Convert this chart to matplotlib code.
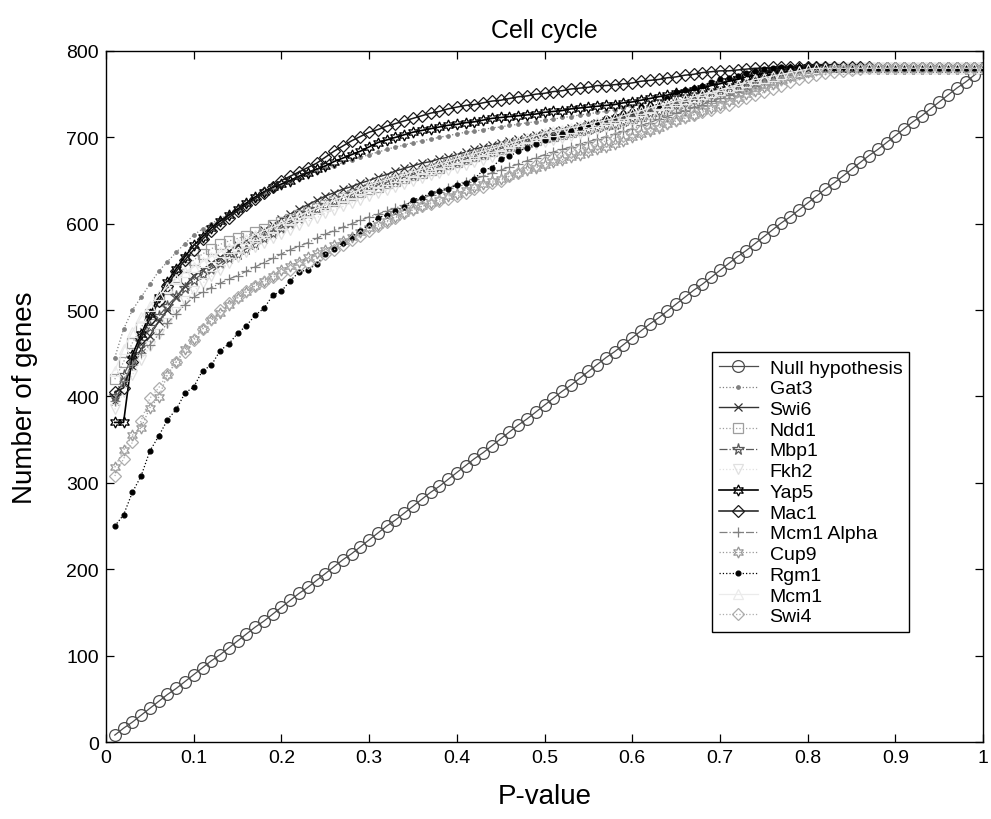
#!/usr/bin/env python3
"""Cell cycle: number of genes vs P-value threshold for each factor."""

import matplotlib
matplotlib.use('Agg')
import matplotlib.pyplot as plt
from matplotlib import font_manager

# P-value thresholds (x grid)
P_VALUES = [round(0.01 * k, 2) for k in range(1, 101)]

NULL_HYPOTHESIS = [
    8, 16, 23, 31, 39, 47, 55, 62, 70, 78,
    86, 94, 101, 109, 117, 125, 133, 140, 148, 156,
    164, 172, 179, 187, 195, 203, 211, 218, 226, 234,
    242, 250, 257, 265, 273, 281, 289, 296, 304, 312,
    320, 328, 335, 343, 351, 359, 367, 374, 382, 390,
    398, 406, 413, 421, 429, 437, 445, 452, 460, 468,
    476, 484, 491, 499, 507, 515, 523, 530, 538, 546,
    554, 562, 569, 577, 585, 593, 601, 608, 616, 624,
    632, 640, 647, 655, 663, 671, 679, 686, 694, 702,
    710, 718, 725, 733, 741, 749, 757, 764, 772, 780]

GAT3 = [
    445, 478, 500, 515, 530, 545, 556, 567, 577, 587,
    594, 600, 606, 611, 616, 622, 628, 634, 639, 644,
    648, 652, 656, 660, 664, 667, 671, 674, 677, 680,
    683, 686, 689, 691, 694, 696, 698, 700, 702, 704,
    706, 707, 709, 711, 712, 714, 715, 717, 718, 720,
    721, 723, 724, 726, 727, 729, 730, 732, 734, 736,
    738, 740, 742, 744, 746, 748, 750, 752, 754, 756,
    758, 760, 762, 765, 767, 770, 772, 775, 777, 779] + [780] * 20

SWI6 = [
    395, 415, 435, 455, 470, 487, 500, 515, 528, 540,
    547, 554, 561, 568, 575, 581, 587, 593, 599, 605,
    611, 617, 622, 627, 632, 636, 640, 643, 647, 650,
    654, 657, 661, 664, 667, 670, 672, 675, 677, 680,
    683, 686, 689, 691, 694, 696, 698, 700, 703, 705,
    707, 709, 711, 713, 715, 717, 719, 721, 723, 725,
    728, 731, 734, 737, 740, 743, 746, 749, 752, 755,
    758, 761, 764, 767, 770, 773, 775, 777, 779, 780] + [780] * 20

NDD1 = [
    420, 440, 462, 480, 495, 510, 525, 538, 550, 558,
    565, 571, 576, 580, 583, 586, 590, 594, 598, 602,
    606, 610, 614, 618, 622, 626, 630, 633, 637, 640,
    643, 647, 650, 653, 656, 659, 662, 665, 669, 672,
    675, 678, 681, 684, 687, 690, 692, 695, 697, 700,
    702, 704, 706, 709, 711, 713, 715, 717, 720, 722,
    725, 727, 730, 732, 735, 737, 740, 742, 745, 748,
    751, 754, 757, 760, 763, 766, 769, 772, 775, 777] + [779] + [780] * 19

MBP1 = [
    400, 425, 445, 463, 480, 493, 505, 516, 526, 535,
    542, 548, 554, 560, 565, 571, 577, 583, 589, 595,
    601, 607, 612, 617, 622, 626, 630, 634, 638, 642,
    645, 648, 651, 654, 657, 660, 663, 666, 669, 672,
    675, 678, 681, 684, 687, 690, 692, 695, 698, 700,
    702, 704, 706, 708, 710, 712, 714, 716, 719, 722,
    725, 728, 731, 734, 737, 740, 743, 746, 749, 752,
    755, 758, 761, 764, 767, 770, 773, 776, 778, 780] + [780] * 20

FKH2 = [
    385, 405, 425, 442, 458, 472, 485, 498, 510, 522,
    531, 539, 547, 554, 561, 567, 573, 578, 583, 588,
    593, 598, 603, 607, 612, 616, 620, 624, 628, 632,
    636, 639, 643, 646, 650, 653, 656, 659, 662, 665,
    668, 671, 674, 677, 680, 683, 686, 689, 692, 695,
    697, 699, 702, 704, 706, 708, 711, 713, 715, 718,
    721, 724, 727, 730, 733, 736, 739, 742, 745, 748,
    751, 754, 757, 760, 763, 766, 769, 772, 775, 777] + [779] + [780] * 19

YAP5 = [
    370, 370, 448, 472, 495, 515, 533, 548, 562, 575,
    585, 595, 603, 610, 617, 624, 631, 637, 642, 646,
    650, 655, 659, 663, 667, 672, 676, 680, 684, 689,
    694, 697, 700, 703, 706, 708, 710, 712, 714, 715,
    717, 718, 720, 722, 723, 724, 725, 726, 727, 729,
    730, 731, 733, 734, 735, 736, 737, 738, 740, 741,
    743, 745, 747, 749, 751, 753, 755, 757, 760, 762,
    765, 767, 770, 772, 774, 776, 778, 779, 780, 781] + [781] * 3 + [780] * 17

MAC1 = [
    405, 410, 440, 468, 490, 510, 528, 545, 558, 570,
    582, 592, 600, 607, 615, 622, 629, 636, 643, 650,
    655, 660, 665, 670, 677, 684, 690, 696, 701, 706,
    709, 713, 716, 719, 722, 725, 728, 730, 733, 735,
    737, 738, 740, 742, 743, 745, 747, 748, 750, 751,
    753, 754, 756, 757, 758, 760, 760, 761, 762, 763,
    765, 766, 767, 769, 770, 772, 773, 775, 776, 777,
    777, 778, 779, 780, 780, 781, 782, 782, 782, 782] + [782] + [781] * 6 + [780] * 13

MCM1_ALPHA = [
    395, 418, 437, 450, 460, 472, 485, 496, 506, 515,
    521, 526, 531, 536, 540, 545, 550, 555, 560, 565,
    570, 574, 578, 583, 588, 592, 596, 600, 604, 608,
    611, 615, 618, 622, 625, 629, 633, 637, 641, 645,
    648, 652, 655, 659, 662, 666, 669, 673, 676, 680,
    683, 686, 689, 692, 695, 698, 701, 704, 707, 710,
    714, 717, 721, 724, 728, 731, 735, 738, 742, 745,
    749, 752, 756, 759, 763, 766, 769, 772, 775, 778] + [779] + [780] * 19

CUP9 = [
    318, 338, 355, 364, 387, 399, 425, 440, 455, 467,
    478, 488, 497, 506, 514, 521, 528, 534, 540, 546,
    551, 556, 561, 566, 570, 575, 580, 585, 590, 595,
    599, 603, 608, 612, 616, 620, 624, 628, 632, 635,
    639, 642, 646, 649, 652, 655, 659, 662, 665, 668,
    671, 674, 677, 680, 683, 686, 689, 692, 696, 700,
    704, 707, 711, 715, 719, 722, 726, 730, 734, 738,
    742, 746, 750, 754, 758, 762, 766, 770, 773, 776] + [778, 779] + [780] * 18

RGM1 = [
    250, 263, 289, 308, 337, 354, 373, 385, 404, 411,
    430, 436, 453, 461, 473, 482, 494, 502, 517, 522,
    534, 544, 547, 553, 565, 571, 578, 585, 592, 599,
    607, 610, 615, 619, 628, 630, 636, 638, 640, 645,
    647, 652, 662, 665, 675, 678, 684, 688, 692, 697,
    700, 704, 708, 712, 715, 718, 722, 725, 728, 730,
    735, 737, 738, 745, 752, 755, 757, 760, 764, 767,
    769, 771, 775, 777, 779, 780, 781, 781, 781, 781] + [781] * 2 + [780] * 18

MCM1 = [
    430, 455, 475, 492, 505, 517, 527, 536, 544, 550,
    556, 562, 567, 572, 577, 582, 587, 592, 596, 600,
    605, 609, 614, 618, 622, 627, 631, 635, 640, 645,
    648, 651, 654, 657, 660, 663, 666, 669, 672, 675,
    678, 681, 684, 687, 690, 693, 696, 699, 702, 705,
    707, 709, 711, 713, 715, 718, 720, 722, 725, 728,
    731, 734, 737, 739, 742, 744, 747, 750, 752, 755,
    758, 761, 764, 767, 769, 771, 773, 775, 777, 779] + [780] * 20

SWI4 = [
    308, 328, 347, 372, 398, 410, 426, 440, 452, 465,
    478, 490, 500, 508, 515, 522, 528, 533, 538, 542,
    547, 551, 555, 560, 565, 570, 575, 581, 586, 592,
    597, 602, 607, 612, 617, 620, 623, 626, 629, 632,
    636, 640, 643, 647, 650, 655, 659, 664, 668, 672,
    676, 679, 683, 686, 689, 692, 696, 699, 702, 705,
    708, 711, 714, 717, 720, 723, 726, 729, 732, 735,
    738, 742, 745, 749, 752, 756, 760, 764, 767, 770] + [772, 774, 776, 777, 778, 779] + [780] * 14

SERIES = [
    ('Null hypothesis', NULL_HYPOTHESIS),
    ('Gat3', GAT3),
    ('Swi6', SWI6),
    ('Ndd1', NDD1),
    ('Mbp1', MBP1),
    ('Fkh2', FKH2),
    ('Yap5', YAP5),
    ('Mac1', MAC1),
    ('Mcm1 Alpha', MCM1_ALPHA),
    ('Cup9', CUP9),
    ('Rgm1', RGM1),
    ('Mcm1', MCM1),
    ('Swi4', SWI4),
]

HEXAGRAM = (6, 1, 0)

# color, linestyle, linewidth, marker, markersize, filled marker
STYLES = {
    'Null hypothesis': ('0.3', '-', 0.9, 'o', 8.5, False),
    'Gat3': ('0.5', ':', 0.9, '.', 5, True),
    'Swi6': ('0.2', '-', 1.0, 'x', 6, False),
    'Ndd1': ('0.62', ':', 0.9, 's', 7, False),
    'Mbp1': ('0.35', '-.', 0.9, '*', 8.5, False),
    'Fkh2': ('0.88', ':', 0.9, 'v', 7, False),
    'Yap5': ('0.0', '-', 1.2, HEXAGRAM, 8, False),
    'Mac1': ('0.1', '-', 1.1, 'D', 6.5, False),
    'Mcm1 Alpha': ('0.5', '-.', 0.9, '+', 7, False),
    'Cup9': ('0.6', ':', 0.9, HEXAGRAM, 8, False),
    'Rgm1': ('0.0', ':', 0.9, '.', 7, True),
    'Mcm1': ('0.92', '-', 0.9, '^', 7, False),
    'Swi4': ('0.68', ':', 0.9, 'D', 6.5, False),
}


def pick_font(name, fallback='Liberation Sans'):
    """Return name if matplotlib can find it, else the fallback family."""
    try:
        font_manager.findfont(name, fallback_to_default=False)
        return name
    except ValueError:
        return fallback


def main():
    plt.rcParams['font.family'] = ['Liberation Sans', 'DejaVu Sans']
    narrow = pick_font('Liberation Sans Narrow')

    fig = plt.figure(figsize=(9.91, 8.2), dpi=100)
    ax = fig.add_axes([0.107, 0.0939, 0.885, 0.8427])

    for name, values in SERIES:
        color, ls, lw, marker, ms, filled = STYLES[name]
        ax.plot(P_VALUES, values, color=color, linestyle=ls, linewidth=lw,
                marker=marker, markersize=ms, markeredgewidth=0.9,
                markerfacecolor=color if filled else 'none',
                markeredgecolor=color, label=name)

    ax.set_xlim(0, 1)
    ax.set_ylim(0, 800)
    ax.set_xticks([i / 10 for i in range(11)])
    ax.set_xticklabels(['0', '0.1', '0.2', '0.3', '0.4', '0.5', '0.6',
                        '0.7', '0.8', '0.9', '1'])
    ax.set_yticks(range(0, 801, 100))
    ax.tick_params(direction='in', top=True, right=True, length=6,
                   width=0.9, labelsize=14, pad=5)
    for spine in ax.spines.values():
        spine.set_linewidth(1.0)

    ax.set_title('Cell cycle', fontsize=18, family=narrow, pad=10)
    ax.set_xlabel('P-value', fontsize=20, family=narrow, labelpad=12)
    ax.set_ylabel('Number of genes', fontsize=20, family=narrow)
    ax.yaxis.set_label_coords(-0.078, 0.5)

    leg = ax.legend(loc='lower left', bbox_to_anchor=(0.68, 0.145),
                    fontsize=14, numpoints=1, handlelength=2.0,
                    labelspacing=0.16, borderpad=0.35, handletextpad=0.6,
                    fancybox=False, framealpha=1, edgecolor='black')
    leg.get_frame().set_linewidth(1.0)

    fig.savefig('out.png', dpi=100)


if __name__ == '__main__':
    main()
